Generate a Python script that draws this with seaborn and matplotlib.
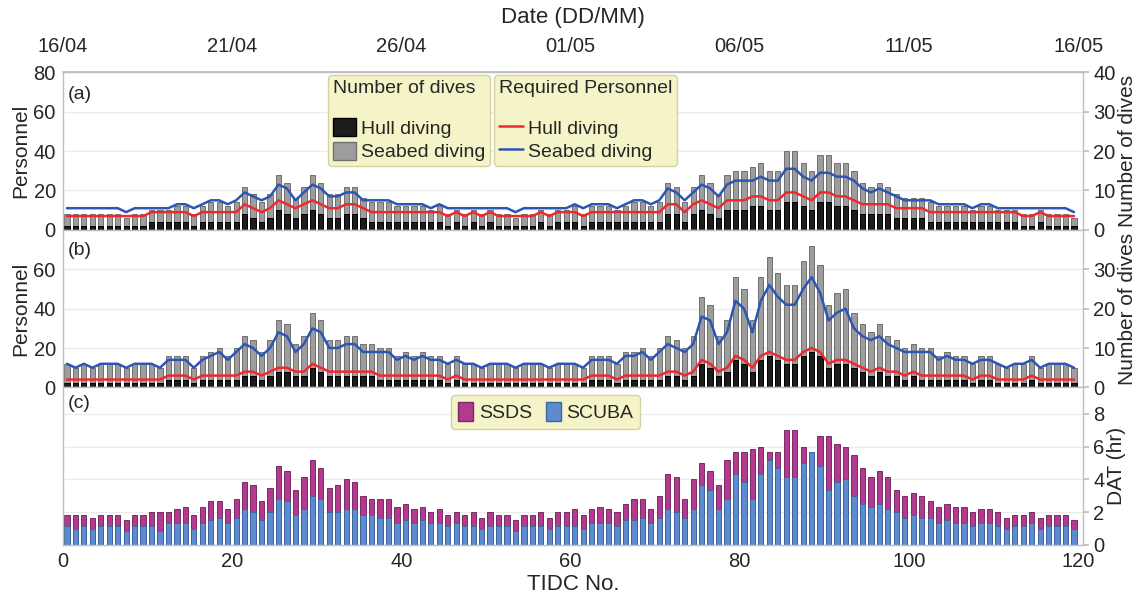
import numpy as np
import matplotlib
matplotlib.use("Agg")
import matplotlib.pyplot as plt
import seaborn as sns
from matplotlib.patches import Patch
from matplotlib.lines import Line2D

# ---------------- data ----------------
tidc = list(range(1, 121))
date_ticks = [0, 20, 40, 60, 80, 100, 120]
date_labels = ["16/04", "21/04", "26/04", "01/05", "06/05", "11/05", "16/05"]

# (a) number of dives (total = hull + seabed) and required personnel
a_total = [4,4,4,4,4,4,4,3,4,4, 5,5,5,6,6,4,6,7,7,6, 7,11,9,7,9,14,12,8,11,14,
           12,9,9,11,11,8,7,7,7,6, 6,6,6,5,6,4,5,4,5,4, 5,4,4,3,4,4,5,4,5,5,
           6,4,6,6,6,5,6,7,7,6, 7,12,11,7,11,14,12,9,14,15, 15,16,17,15,15,20,20,17,15,19,
           19,17,17,15,12,11,12,11,9,8, 8,8,7,6,6,6,6,5,6,6, 5,5,5,4,4,5,4,4,4,3]
a_hull = [1,1,1,1,1,1,1,1,1,1, 2,2,2,2,2,1,2,2,2,2, 2,4,3,2,3,5,4,3,4,5,
          4,3,3,4,4,3,2,2,2,2, 2,2,2,2,2,1,2,1,2,1, 2,1,1,1,1,1,2,1,2,2,
          2,1,2,2,2,2,2,2,2,2, 2,4,4,2,4,5,4,3,5,5, 5,6,6,5,5,7,7,6,5,7,
          7,6,6,5,4,4,4,4,3,3, 3,3,2,2,2,2,2,2,2,2, 2,2,2,1,1,2,1,1,1,1]
a_hull_pers = [7,7,7,7,7,7,7,7,7,7, 9,9,9,9,9,7,9,9,9,9, 9,13,11,9,11,15,13,11,13,15,
               13,11,11,13,13,11,9,9,9,9, 9,9,9,9,9,7,9,7,9,7, 9,7,7,7,7,7,9,7,9,9,
               9,7,9,9,9,9,9,9,9,9, 9,13,13,9,13,15,13,11,15,15, 15,17,17,15,15,19,19,17,15,19,
               19,17,17,15,13,13,13,13,11,11, 11,11,9,9,9,9,9,9,9,9, 9,9,9,7,7,9,7,7,7,7]
a_seabed_pers = [11,11,11,11,11,11,11,9,11,11, 11,11,11,13,13,11,13,15,15,13,
                 15,19,17,15,17,23,21,15,19,23, 21,17,17,19,19,15,15,15,15,13,
                 13,13,13,11,13,11,11,11,11,11, 11,11,11,9,11,11,11,11,11,11,
                 13,11,13,13,13,11,13,15,15,13, 15,21,19,15,19,23,21,17,23,25,
                 25,25,27,25,25,31,31,27,25,29, 29,27,27,25,21,19,21,19,17,15,
                 15,15,15,13,13,13,13,11,13,13, 11,11,11,11,11,11,11,11,11,9]

# (b)
b_total = [6,5,6,5,6,6,6,5,6,6, 6,5,8,8,8,5,8,9,10,8, 10,13,12,9,12,17,16,11,13,19,
           17,12,12,13,13,11,11,10,10,8, 9,8,9,8,8,6,8,6,6,5, 6,6,6,5,6,6,6,5,6,6,
           6,5,8,8,8,6,9,9,10,8, 10,13,12,10,13,23,21,13,17,28, 25,17,28,33,29,26,26,32,36,31,
           21,24,25,19,16,14,16,13,12,10, 11,10,10,8,9,8,8,6,8,8, 6,5,6,6,8,5,6,6,6,5]
b_hull = [1,1,1,1,1,1,1,1,1,1, 1,1,2,2,2,1,2,2,2,2, 2,3,3,2,3,4,4,3,3,5,
          4,3,3,3,3,3,3,2,2,2, 2,2,2,2,2,1,2,1,1,1, 1,1,1,1,1,1,1,1,1,1,
          1,1,2,2,2,1,2,2,2,2, 2,3,3,2,3,6,5,3,4,7, 6,4,7,8,7,6,6,8,9,8,
          5,6,6,5,4,3,4,3,3,2, 3,2,2,2,2,2,2,1,2,2, 1,1,1,1,2,1,1,1,1,1]
b_hull_pers = [4,4,4,4,4,4,4,4,4,4, 4,4,6,6,6,4,6,6,6,6, 6,8,8,6,8,10,10,8,8,12,
               10,8,8,8,8,8,8,6,6,6, 6,6,6,6,6,4,6,4,4,4, 4,4,4,4,4,4,4,4,4,4,
               4,4,6,6,6,4,6,6,6,6, 6,8,8,6,8,14,12,8,10,16, 14,10,16,18,16,14,14,18,20,18,
               12,14,14,12,10,8,10,8,8,6, 8,6,6,6,6,6,6,4,6,6, 4,4,4,4,6,4,4,4,4,4]
b_seabed_pers = [12,10,12,10,12,12,12,10,12,12, 12,10,14,14,14,10,14,16,18,14,
                 18,22,20,16,20,28,26,18,22,30, 28,20,20,22,22,18,18,18,18,14,
                 16,14,16,14,14,12,14,12,12,10, 12,12,12,10,12,12,12,10,12,12,
                 12,10,14,14,14,12,16,16,18,14, 18,22,20,18,22,36,34,22,28,44,
                 40,28,44,52,46,42,42,50,56,48, 34,38,40,30,26,24,26,22,20,18,
                 18,18,18,14,16,14,14,12,14,14, 12,10,12,12,14,10,12,12,12,10]

# (c) diving activity time (hr), total = SSDS + SCUBA
c_total = [1.83,1.83,1.83,1.67,1.83,1.83,1.83,1.5,1.83,1.83,
           2.0,2.0,2.0,2.17,2.33,1.83,2.33,2.67,2.67,2.17,
           2.83,3.83,3.67,2.67,3.5,4.83,4.5,3.33,4.17,5.17,
           4.67,3.5,3.67,4.0,3.83,3.0,2.83,2.83,2.83,2.33,
           2.5,2.17,2.33,2.0,2.17,1.83,2.0,1.83,2.0,1.67,
           2.0,1.83,1.83,1.5,1.83,1.83,2.0,1.67,2.0,2.0,
           2.17,1.83,2.17,2.33,2.17,2.0,2.5,2.83,2.83,2.17,
           3.0,4.33,4.17,2.83,4.0,5.0,4.5,3.67,5.17,5.67,
           5.67,5.83,6.0,5.67,5.67,7.0,7.0,6.0,5.67,6.67,
           6.67,6.17,6.0,5.5,4.67,4.17,4.5,4.17,3.33,3.0,
           3.17,3.0,2.67,2.33,2.5,2.33,2.33,2.0,2.17,2.17,
           2.0,1.67,1.83,1.83,2.0,1.67,1.83,1.83,1.83,1.5]
c_scuba = [1.17,1.0,1.17,1.0,1.17,1.17,1.17,0.83,1.17,1.17,
           1.17,0.83,1.33,1.33,1.33,1.0,1.33,1.5,1.67,1.33,
           1.67,2.17,2.0,1.5,2.0,2.83,2.67,1.83,2.17,3.0,
           2.83,2.0,2.0,2.17,2.17,1.83,1.83,1.67,1.67,1.33,
           1.5,1.33,1.5,1.33,1.33,1.17,1.33,1.17,1.17,1.0,
           1.17,1.17,1.17,0.83,1.17,1.17,1.17,1.0,1.17,1.17,
           1.17,1.0,1.33,1.33,1.33,1.17,1.5,1.5,1.67,1.33,
           1.67,2.17,2.0,1.67,2.17,3.67,3.33,2.17,2.83,4.33,
           3.83,2.83,4.33,5.17,4.67,4.17,4.17,5.0,5.67,4.83,
           3.33,3.83,4.0,3.0,2.5,2.33,2.5,2.17,2.0,1.67,
           1.83,1.67,1.67,1.33,1.5,1.33,1.33,1.17,1.33,1.33,
           1.17,1.0,1.17,1.17,1.33,1.0,1.17,1.17,1.17,1.0]

# ---------------- style ----------------
sns.set_theme(style="white")
plt.rcParams["font.family"] = ["Liberation Sans", "DejaVu Sans"]

GREY, GREY_E = "#9d9d9d", "#707070"
BLACK, BLACK_E = "#1c1c1c", "#000000"
RED, BLUE = "#f0282d", "#2b56b4"
SSDS, SSDS_E = "#b23b8f", "#7b2a62"
SCUBA, SCUBA_E = "#5c8ccf", "#3f679f"
LEG_FACE, LEG_EDGE = "#f4f4c8", "#d2d2a2"
GRID, SPINE = "#ebebeb", "#bfbfbf"
TICK_FS, LAB_FS, LEG_FS = 14.5, 15, 14

pos = np.array(tidc) - 0.5

fig, axes = plt.subplots(3, 1, figsize=(11.42, 5.96), dpi=100, sharex=True)
fig.subplots_adjust(left=0.0549, right=0.9486, top=0.8787, bottom=0.0856, hspace=0)


def base_style(ax):
    for s in ax.spines.values():
        s.set_color(SPINE)
        s.set_linewidth(1.0)
    ax.grid(axis="y", color=GRID, lw=1.0)
    ax.grid(axis="x", visible=False)
    ax.set_axisbelow(True)


def bars(ax, vals, color, edge):
    sns.barplot(x=pos, y=vals, native_scale=True, orient="x", color=color,
                saturation=1, width=0.62, edgecolor=edge, linewidth=0.7,
                errorbar=None, ax=ax)


def right_axis(ax, ticks, label):
    ax.yaxis.tick_right()
    ax.yaxis.set_label_position("right")
    ax.set_yticks(ticks)
    ax.tick_params(axis="y", right=True, left=False, labelleft=False,
                   labelright=True, length=4, color=SPINE,
                   labelsize=TICK_FS, pad=3)
    ax.set_ylabel(label, fontsize=LAB_FS, labelpad=2)


def dive_panel(ax, total, hull, hull_p, seabed_p, rticks, lticks, tag, tag_y):
    ax2 = ax.twinx()
    base_style(ax)
    bars(ax, total, GREY, GREY_E)
    bars(ax, hull, BLACK, BLACK_E)
    ax.set_ylim(0, 40)
    sns.lineplot(x=pos, y=hull_p, ax=ax2, color=RED, lw=1.8)
    sns.lineplot(x=pos, y=seabed_p, ax=ax2, color=BLUE, lw=1.8)
    ax2.set_ylim(0, 80)
    ax2.yaxis.tick_left()
    ax2.yaxis.set_label_position("left")
    ax2.set_yticks(lticks)
    ax2.tick_params(axis="y", left=True, right=False, labelleft=True,
                    labelright=False, length=0, labelsize=TICK_FS, pad=5)
    ax2.set_ylabel("Personnel", fontsize=LAB_FS, labelpad=2)
    for s in ax2.spines.values():
        s.set_visible(False)
    right_axis(ax, rticks, "Number of dives")
    ax2.text(0.005, tag_y, tag, transform=ax2.transAxes, fontsize=14,
             ha="left", va="center")
    return ax2


axA2 = dive_panel(axes[0], a_total, a_hull, a_hull_pers, a_seabed_pers,
                  [0, 10, 20, 30, 40], [0, 20, 40, 60, 80], "(a)", 0.862)
axB2 = dive_panel(axes[1], b_total, b_hull, b_hull_pers, b_seabed_pers,
                  [0, 10, 20, 30], [0, 20, 40, 60], "(b)", 0.867)

# legends of panel (a)
h1 = [Patch(facecolor=BLACK, edgecolor=BLACK_E, label="Hull diving"),
      Patch(facecolor=GREY, edgecolor=GREY_E, label="Seabed diving")]
h2 = [Line2D([], [], color=RED, lw=1.8, label="Hull diving"),
      Line2D([], [], color=BLUE, lw=1.8, label="Seabed diving")]
common = dict(fontsize=LEG_FS, title_fontsize=LEG_FS, frameon=True, fancybox=True,
              framealpha=1, facecolor=LEG_FACE, edgecolor=LEG_EDGE,
              borderpad=0.25, labelspacing=0.2, handletextpad=0.25,
              borderaxespad=0, alignment="left", loc="upper left")
leg1 = axA2.legend(handles=h1, title="Number of dives", bbox_to_anchor=(0.26, 0.983),
                   handlelength=1.2, handleheight=1.1, **common)
leg1._legend_box.sep = 15
axA2.add_artist(leg1)
leg2 = axA2.legend(handles=h2, title="Required Personnel", bbox_to_anchor=(0.4226, 0.983),
                   handlelength=1.25, handleheight=1.1, **common)
leg2._legend_box.sep = 15

# panel (c)
axC = axes[2]
base_style(axC)
bars(axC, c_total, SSDS, SSDS_E)
bars(axC, c_scuba, SCUBA, SCUBA_E)
axC.set_ylim(0, 9.6)
right_axis(axC, [0, 2, 4, 6, 8], "DAT (hr)")
axC.text(0.005, 0.899, "(c)", transform=axC.transAxes, fontsize=14,
         ha="left", va="center")
h3 = [Patch(facecolor=SSDS, edgecolor=SSDS_E, label="SSDS"),
      Patch(facecolor=SCUBA, edgecolor=SCUBA_E, label="SCUBA")]
axC.legend(handles=h3, ncol=2, loc="upper left", bbox_to_anchor=(0.3805, 0.95),
           fontsize=LEG_FS, frameon=True, fancybox=True, framealpha=1,
           facecolor=LEG_FACE, edgecolor=LEG_EDGE, borderpad=0.35,
           handlelength=0.78, handleheight=1.1, handletextpad=0.3,
           columnspacing=0.7, borderaxespad=0)

# x axes
for ax in axes:
    ax.set_xlim(0, 120.6)
    ax.tick_params(axis="x", length=0)
axC.set_xticks(date_ticks)
axC.set_xticklabels([str(t) for t in date_ticks])
axC.tick_params(axis="x", labelsize=TICK_FS, pad=5)
axC.set_xlabel("TIDC No.", fontsize=LAB_FS + 1, labelpad=2)
for ax in (axes[0], axes[1]):
    ax.tick_params(axis="x", labelbottom=False)
    ax.set_xlabel("")

sec = axes[0].secondary_xaxis("top")
sec.set_xticks(date_ticks)
sec.set_xticklabels(date_labels)
sec.tick_params(axis="x", length=0, pad=12, labelsize=TICK_FS)
sec.set_xlabel("Date (DD/MM)", fontsize=LAB_FS + 1, labelpad=10)
sec.spines["top"].set_color(SPINE)

fig.savefig("out.png", dpi=100, facecolor="white")
